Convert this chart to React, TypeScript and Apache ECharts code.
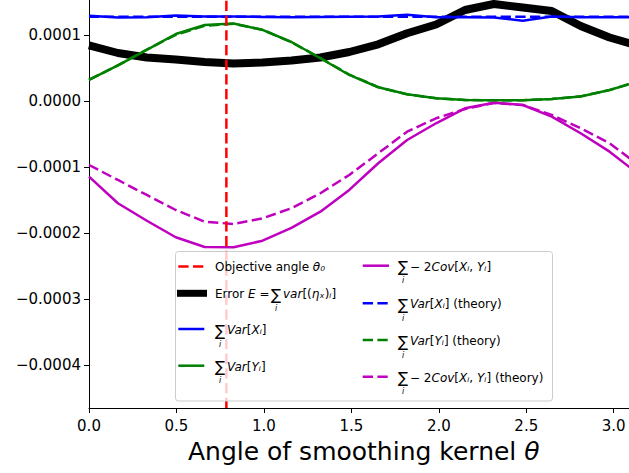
import React, { useEffect, useRef } from 'react';
import * as echarts from 'echarts';

const FONT = "'DejaVu Sans', sans-serif";

// angle samples (radians)
const thetaValues = [0, 0.1653, 0.3307, 0.496, 0.6614, 0.8267, 0.9921, 1.1574, 1.3228, 1.4881, 1.6535, 1.8188, 1.9842, 2.1495, 2.3149, 2.4802, 2.6456, 2.8109, 2.9762, 3.1416];
// all series values in units of 1e-4
const UNIT = 1e-4;
const errorValues = [0.841, 0.727, 0.659, 0.629, 0.591, 0.568, 0.583, 0.614, 0.659, 0.742, 0.859, 1.026, 1.159, 1.379, 1.47, 1.417, 1.364, 1.136, 0.962, 0.833];
const varXValues = [1.292, 1.265, 1.268, 1.295, 1.28, 1.28, 1.273, 1.268, 1.273, 1.277, 1.28, 1.308, 1.268, 1.268, 1.265, 1.217, 1.28, 1.268, 1.268, 1.268];
const varYValues = [0.318, 0.538, 0.773, 1.015, 1.152, 1.174, 1.076, 0.894, 0.647, 0.394, 0.208, 0.102, 0.041, 0.015, 0.012, 0.012, 0.03, 0.068, 0.167, 0.297];
const covValues = [-1.147, -1.55, -1.814, -2.065, -2.212, -2.217, -2.117, -1.924, -1.677, -1.348, -0.944, -0.591, -0.338, -0.111, -0.026, -0.061, -0.238, -0.489, -0.768, -1.109];
const varXTheory = [1.275, 1.275, 1.275, 1.275, 1.275, 1.275, 1.275, 1.275, 1.275, 1.275, 1.275, 1.275, 1.275, 1.275, 1.275, 1.275, 1.275, 1.275, 1.275, 1.275];
const varYTheory = [0.32, 0.54, 0.78, 1.0, 1.14, 1.17, 1.08, 0.89, 0.65, 0.4, 0.21, 0.1, 0.04, 0.015, 0.01, 0.012, 0.03, 0.07, 0.165, 0.3];
const covTheory = [-0.97, -1.197, -1.424, -1.652, -1.829, -1.864, -1.777, -1.626, -1.398, -1.121, -0.792, -0.465, -0.262, -0.121, -0.03, -0.061, -0.212, -0.414, -0.641, -0.97];
const objectiveAngle = 0.7854;

const xTickValues = [0, 0.5, 1.0, 1.5, 2.0, 2.5, 3.0];
const yTickValues = [-0.0004, -0.0003, -0.0002, -0.0001, 0, 0.0001];
const xRange = [0, 3.1416];
const yRange = [-0.0004652, 0.000153];

const xAxisTitle = 'Angle of smoothing kernel {it|θ}';

// legend labels: [text before the sum sign, text after it] (null => no sum sign)
const legendLabels: [string, string | null][] = [
  ['{n|Objective angle }{it|θ₀}', null],
  ['{n|Error }{it|E}{n| =}', '{it|var}{n|[(}{it|ηₓ}{n|)}{it|ᵢ}{n|]}'],
  ['', '{it|Var}{n|[}{it|Xᵢ}{n|]}'],
  ['', '{it|Var}{n|[}{it|Yᵢ}{n|]}'],
  ['', '{n|− 2}{it|Cov}{n|[}{it|Xᵢ}{n|, }{it|Yᵢ}{n|]}'],
  ['', '{it|Var}{n|[}{it|Xᵢ}{n|] (theory)}'],
  ['', '{it|Var}{n|[}{it|Yᵢ}{n|] (theory)}'],
  ['', '{n|− 2}{it|Cov}{n|[}{it|Xᵢ}{n|, }{it|Yᵢ}{n|] (theory)}'],
];

const DASH = [10.3, 4.4];

// legend styles (order matches legendLabels)
const legendStyles = [
  { color: '#ff0000', width: 2.5, dash: true },
  { color: '#000000', width: 7, dash: false },
  { color: '#0000ff', width: 2.5, dash: false },
  { color: '#008000', width: 2.5, dash: false },
  { color: '#bf00bf', width: 2.5, dash: false },
  { color: '#0000ff', width: 2.5, dash: true },
  { color: '#008000', width: 2.5, dash: true },
  { color: '#bf00bf', width: 2.5, dash: true },
];
// layout: [handleX1, handleX2, textX, rowY, sumX offset from textX]
const legendLayout = [
  [178.3, 204.3, 215, 266.5, 0],
  [177, 207, 215, 293.3, 56],
  [178.3, 204.3, 215, 329, 0],
  [178.3, 204.3, 215, 365.7, 0],
  [362.7, 389, 398, 265.7, 0],
  [362.7, 389, 398, 303.3, 0],
  [362.7, 389, 398, 340, 0],
  [362.7, 389, 398, 376.7, 0],
];

const RICH = {
  n: { fontSize: 12, fontFamily: FONT, fill: '#000', color: '#000' },
  it: { fontSize: 12, fontFamily: FONT, fontStyle: 'italic', fill: '#000', color: '#000' },
};

const LZ = 100;

function buildLegend() {
  const els: any[] = [];
  els.push({
    type: 'rect', z: LZ, silent: true,
    shape: { x: 175.5, y: 251.5, width: 377, height: 149.5, r: 3 },
    style: { fill: 'rgba(255,255,255,0.8)', stroke: '#cccccc', lineWidth: 1 },
  });
  legendLabels.forEach((lab, i) => {
    const st = legendStyles[i];
    const [hx1, hx2, tx, ry, sumOff] = legendLayout[i];
    els.push({
      type: 'line', z: LZ + 1, silent: true,
      shape: { x1: hx1, y1: ry, x2: hx2, y2: ry },
      style: { stroke: st.color, lineWidth: st.width, lineDash: st.dash ? DASH : null, lineCap: 'butt' },
    });
    const [pre, post] = lab;
    if (post === null) {
      els.push({
        type: 'text', x: tx, y: ry, z: LZ + 1, silent: true,
        style: { text: pre, fontSize: 12, fontFamily: FONT, fill: '#000', align: 'left', verticalAlign: 'middle', rich: RICH },
      });
    } else {
      const ty = ry + 1;
      if (pre) {
        els.push({
          type: 'text', x: tx, y: ty, z: LZ + 1, silent: true,
          style: { text: pre, fontSize: 12, fontFamily: FONT, fill: '#000', align: 'left', verticalAlign: 'middle', rich: RICH },
        });
      }
      const sx = tx + sumOff;
      els.push({
        type: 'text', x: sx, y: ty + 0.5, z: LZ + 1, silent: true,
        style: { text: '∑', fontSize: 15, fontFamily: FONT, fill: '#000', align: 'left', verticalAlign: 'middle' },
      });
      els.push({
        type: 'text', x: sx + 4, y: ty + 14, z: LZ + 1, silent: true,
        style: { text: 'i', fontSize: 8, fontStyle: 'italic', fontFamily: FONT, fill: '#000', align: 'left', verticalAlign: 'middle' },
      });
      els.push({
        type: 'text', x: sx + 12, y: ty, z: LZ + 1, silent: true,
        style: { text: post, fontSize: 12, fontFamily: FONT, fill: '#000', align: 'left', verticalAlign: 'middle', rich: RICH },
      });
    }
  });
  return els;
}

function toPoints(vals: number[]) {
  return thetaValues.map((t, i) => [t, vals[i] * UNIT]);
}

function lineSeries(name: string, vals: number[], color: string, width: number, dashed: boolean, z: number) {
  return {
    type: 'line',
    name,
    data: toPoints(vals),
    showSymbol: false,
    symbol: 'none',
    silent: true,
    z,
    clip: true,
    lineStyle: { color, width, type: dashed ? DASH : 'solid', cap: 'butt', join: 'round' },
    emphasis: { disabled: true },
  };
}

export default function App() {
  const ref = useRef<HTMLDivElement>(null);
  useEffect(() => {
    document.body.style.margin = '0';
    if (!ref.current) return;
    const chart = echarts.init(ref.current, null, { renderer: 'svg' });
    const axisCommon = {
      type: 'value',
      splitLine: { show: false },
      axisLine: { show: true, onZero: false, lineStyle: { color: '#000', width: 1 } },
    };
    chart.setOption({
      animation: false,
      backgroundColor: '#ffffff',
      textStyle: { fontFamily: FONT },
      grid: { left: 89, right: -9.5, top: 0, bottom: 65, containLabel: false, outerBoundsMode: 'none' },
      xAxis: {
        ...axisCommon,
        min: xRange[0],
        max: xRange[1],
        axisTick: { show: true, length: 5, inside: false, customValues: xTickValues, lineStyle: { color: '#000', width: 1 } },
        axisLabel: {
          customValues: xTickValues,
          formatter: (v: number) => v.toFixed(1),
          fontSize: 15, color: '#000', fontFamily: FONT, margin: 10,
        },
        name: xAxisTitle,
        nameLocation: 'middle',
        nameGap: 31,
        nameTextStyle: {
          fontSize: 25, color: '#000', fontFamily: FONT,
          rich: { it: { fontSize: 25, fontStyle: 'italic', fontFamily: FONT, color: '#000' } },
        },
      },
      yAxis: {
        ...axisCommon,
        min: yRange[0],
        max: yRange[1],
        axisTick: { show: true, length: 5, inside: false, customValues: yTickValues, lineStyle: { color: '#000', width: 1 } },
        axisLabel: {
          customValues: yTickValues,
          formatter: (v: number) => (v < 0 ? '−' : '') + Math.abs(v).toFixed(4),
          fontSize: 15, color: '#000', fontFamily: FONT, margin: 8,
        },
      },
      series: [
        lineSeries('Error', errorValues, '#000000', 8, false, 2),
        lineSeries('Var X', varXValues, '#0000ff', 2.5, false, 3),
        lineSeries('Var Y', varYValues, '#008000', 2.5, false, 4),
        lineSeries('-2Cov', covValues, '#bf00bf', 2.5, false, 5),
        lineSeries('Var X (theory)', varXTheory, '#0000ff', 2.5, true, 6),
        lineSeries('Var Y (theory)', varYTheory, '#008000', 2.5, true, 7),
        lineSeries('-2Cov (theory)', covTheory, '#bf00bf', 2.5, true, 8),
        {
          type: 'line',
          name: 'Objective angle',
          data: [[objectiveAngle, yRange[0]], [objectiveAngle, yRange[1]]],
          showSymbol: false, symbol: 'none', silent: true, z: 9,
          lineStyle: { color: '#ff0000', width: 2.5, type: DASH, cap: 'butt' },
          emphasis: { disabled: true },
        },
      ],
      graphic: { elements: buildLegend() },
    });
    return () => chart.dispose();
  }, []);
  return <div ref={ref} style={{ width: 629, height: 473 }} />;
}
